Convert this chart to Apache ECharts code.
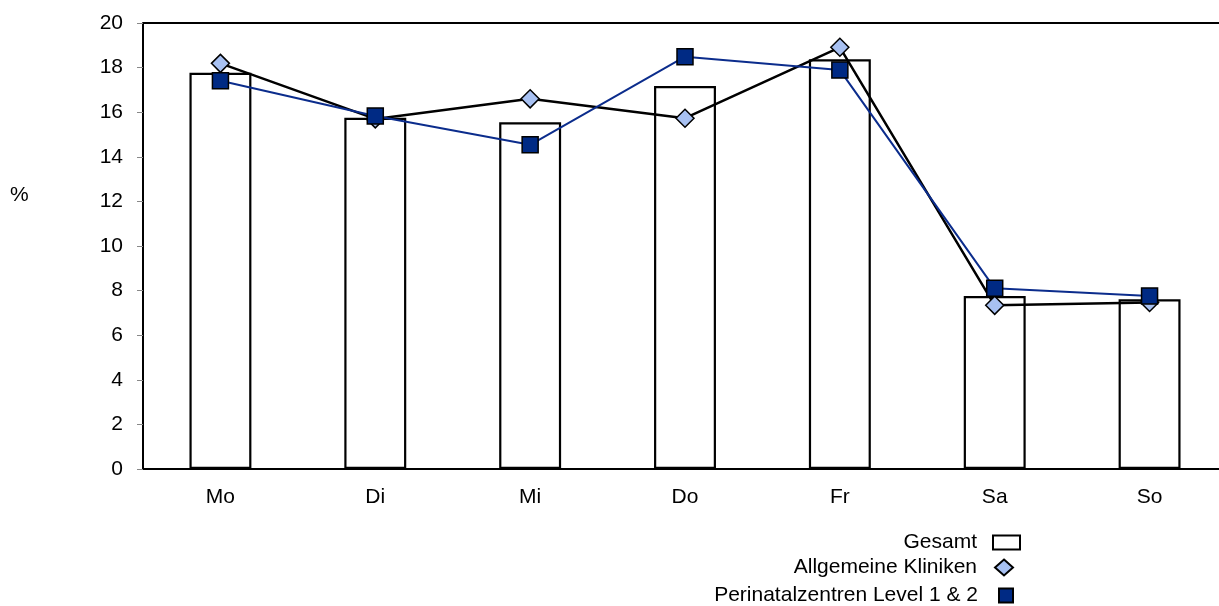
<!DOCTYPE html>
<html><head><meta charset="utf-8">
<script src="https://cdn.jsdelivr.net/npm/echarts@6/dist/echarts.min.js"></script>
<style>html,body{margin:0;padding:0;background:#fff;overflow:hidden}#c{width:1230px;height:606px}</style>
</head><body><div id="c"></div>
<script>
var categories = ['Mo','Di','Mi','Do','Fr','Sa','So'];
var gesamt = [17.77, 15.75, 15.55, 17.17, 18.37, 7.76, 7.61];
var allgemein = [18.19, 15.7, 16.6, 15.73, 18.91, 7.34, 7.47];
var perinatal = [17.41, 15.83, 14.54, 18.49, 17.89, 8.10, 7.76];
var yTicks = [0, 20, 2];

var font = 'Liberation Sans, Arial, sans-serif';
var fs = 21;
var chart = echarts.init(document.getElementById('c'), null, {renderer:'canvas'});
function lt(pr){ return {color:'#000', fontSize:fs, fontFamily:font, padding:[0,pr,0,0]}; }
chart.setOption({
  animation:false,
  backgroundColor:'#fff',
  title:{text:'%', left:5, top:180, textStyle:{fontSize:fs, fontWeight:'normal', color:'#000', fontFamily:font}},
  grid:{left:143, top:23, width:1084, height:446, containLabel:false, show:false},
  legend:[
    {data:[{name:'Gesamt', icon:'rect'}], orient:'vertical', align:'right', right:204, top:527, itemWidth:27, itemHeight:14, textStyle:lt(11), selectedMode:false},
    {data:[{name:'Allgemeine Kliniken', icon:'diamond'}], orient:'vertical', align:'right', right:211, top:552, itemWidth:18, itemHeight:16, textStyle:lt(13), selectedMode:false},
    {data:[{name:'Perinatalzentren Level 1 & 2', icon:'rect'}], orient:'vertical', align:'right', right:211, top:580, itemWidth:14, itemHeight:14, textStyle:lt(16), selectedMode:false}
  ],
  xAxis:{type:'category', data:categories,
    axisLine:{show:true, lineStyle:{color:'#000', width:2}},
    axisTick:{show:false},
    axisLabel:{color:'#000', fontSize:fs, fontFamily:font, margin:18},
    splitLine:{show:false}},
  yAxis:[{type:'value', min:yTicks[0], max:yTicks[1], interval:yTicks[2],
    axisLine:{show:true, lineStyle:{color:'#000', width:2}},
    axisTick:{show:true, length:6, lineStyle:{color:'#888', width:1}},
    axisLabel:{color:'#000', fontSize:fs, fontFamily:font, margin:20},
    splitLine:{show:false}}],
  series:[
    {name:'Gesamt', type:'bar', data:gesamt, barWidth:'40%',
     itemStyle:{color:'#fff', borderColor:'#000', borderWidth:2.2}, z:2},
    {name:'Allgemeine Kliniken', type:'line', data:allgemein, symbol:'diamond', symbolSize:18,
     lineStyle:{color:'#000', width:2.5},
     itemStyle:{color:'#A8C1F2', borderColor:'#000', borderWidth:1.5}, z:3},
    {name:'Perinatalzentren Level 1 & 2', type:'line', data:perinatal, symbol:'rect', symbolSize:16,
     lineStyle:{color:'#0B2C8C', width:2},
     itemStyle:{color:'#002A84', borderColor:'#000', borderWidth:1.5}, z:4}
  ],
  graphic:[{type:'line', shape:{x1:143, y1:23, x2:1230, y2:23}, style:{stroke:'#000', lineWidth:2}, z:10}]
});
</script></body></html>
